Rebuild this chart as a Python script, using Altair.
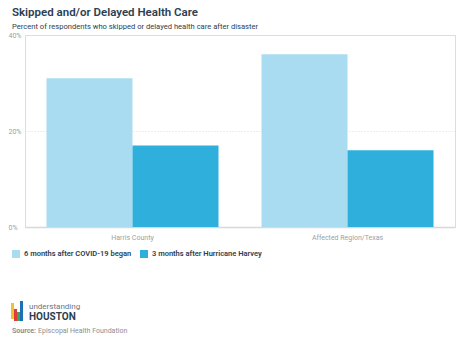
import altair as alt
import pandas as pd

regions = ["Harris County", "Affected Region/Texas"]
series = ["6 months after COVID-19 began", "3 months after Hurricane Harvey"]
covid = [31, 36]
harvey = [17, 16]
colors = ["#a9dcf0", "#2fb0dc"]
y_ticks = [0, 20, 40]

rows = []
for i, r in enumerate(regions):
    rows.append({"region": r, "series": series[0], "value": covid[i]})
    rows.append({"region": r, "series": series[1], "value": harvey[i]})
df = pd.DataFrame(rows)

FONT = "Roboto"
NAVY = "#2d3e50"
GRAY = "#8a8f96"

bars = alt.Chart(df).mark_bar().encode(
    x=alt.X("region:N", sort=regions, title=None,
            scale=alt.Scale(paddingInner=0.2, paddingOuter=0.1),
            axis=alt.Axis(labelAngle=0, labelColor="#9a9fa6", labelFontSize=7, labelFont=FONT,
                          ticks=False, domainColor="#d5d8dc", domainWidth=1.5, labelPadding=6)),
    xOffset=alt.XOffset("series:N", sort=series),
    y=alt.Y("value:Q", title=None,
            scale=alt.Scale(domain=[0, 40], nice=False),
            axis=alt.Axis(values=y_ticks, labelExpr="datum.value + '%'", labelAlign="left",
                          labelPadding=17, ticks=False, tickSize=0, domain=False,
                          labelColor="#9a9fa6", labelFontSize=7, labelFont=FONT,
                          gridDash=[1, 2], gridColor="#d9dde1")),
    color=alt.Color("series:N", sort=series, title=None,
                    scale=alt.Scale(domain=series, range=colors),
                    legend=alt.Legend(orient="none", legendX=-13, legendY=215, direction="horizontal",
                                      symbolType="square", symbolSize=64, symbolStrokeWidth=0,
                                      labelFont=FONT, labelFontSize=7.5, labelColor=NAVY,
                                      labelFontWeight=600, columnPadding=8, labelOffset=4,
                                      symbolOpacity=1)),
)

one = pd.DataFrame({"a": [0]})

def txt(text, x, y, size, color, weight="normal"):
    return alt.Chart(one).mark_text(text=text, align="left", baseline="middle", font=FONT,
                                    fontSize=size, color=color, fontWeight=weight).encode(
        x=alt.value(x), y=alt.value(y))

title = txt("Skipped and/or Delayed Health Care", -13, -22, 11.5, NAVY, 600)
subtitle = txt("Percent of respondents who skipped or delayed health care after disaster", -13, -8, 7.6, NAVY)
under = txt("understanding", 4, 272, 8, "#6b7480")
houston = txt("HOUSTON", 4, 282, 10, NAVY, "bold")
src1 = txt("Source:", -13, 296, 7, GRAY, "bold")
src2 = txt("Episcopal Health Foundation", 13, 296, 7, GRAY)

def rect(x, x2, y, y2, c):
    return alt.Chart(one).mark_rect(color=c).encode(
        x=alt.value(x), x2=alt.value(x2), y=alt.value(y), y2=alt.value(y2))

logo = [
    rect(-14, -11, 268, 284, "#f2c12e"),
    rect(-11, -8, 274, 286, "#e0393e"),
    rect(-8, -5, 277, 286, "#3aa757"),
    rect(-5, -2, 266, 286, "#1f6fb5"),
]

chart = alt.layer(bars, title, subtitle, under, houston, src1, src2, *logo).properties(
    width=430, height=192,
    padding={"left": 25, "top": 35, "right": 5, "bottom": 118},
    autosize=alt.AutoSizeParams(type="none"),
).configure_view(stroke=None).configure(background="white")

chart.save("out.html", embed_options={"renderer": "svg", "actions": False})
